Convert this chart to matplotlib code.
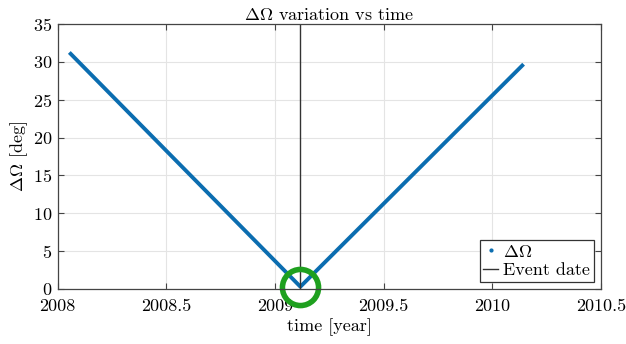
import numpy as np
import matplotlib
matplotlib.use('Agg')
import matplotlib.pyplot as plt

# data
t = [2008.054, 2009.117, 2010.144]
dOmega = [31.25, 0.3, 29.7]
event_date = 2009.117
event_val = 0.3

plt.rcParams['font.family'] = 'serif'
plt.rcParams['font.serif'] = ['cmr10', 'DejaVu Serif']
plt.rcParams['mathtext.fontset'] = 'cm'
plt.rcParams['axes.formatter.use_mathtext'] = True

fig = plt.figure(figsize=(6.26, 3.44), dpi=100)
fig.set_facecolor('white')
ax = fig.add_axes([0.092, 0.160, 0.868, 0.770])

blue = '#0b6db0'
ax.plot(t, dOmega, '-', color=blue, linewidth=2.8, solid_capstyle='butt')
ax.plot([], [], '.', color=blue, markersize=4, label=r'$\Delta\Omega$')
ax.axvline(event_date, color='#333333', linewidth=1.0, label='Event date')
ax.plot([event_date], [event_val], 'o', markersize=26, markerfacecolor='none',
        markeredgecolor='#1fa01f', markeredgewidth=4, clip_on=False)

ax.set_xlim(2008, 2010.5)
ax.set_ylim(0, 35)
ax.set_xticks([2008, 2008.5, 2009, 2009.5, 2010, 2010.5])
ax.set_xticklabels(['2008', '2008.5', '2009', '2009.5', '2010', '2010.5'])
ax.set_yticks(np.arange(0, 36, 5))
ax.tick_params(direction='in', top=True, right=True, labelsize=13, length=4,
               color='#444444')
ax.tick_params(axis='x', pad=7)
ax.tick_params(axis='y', pad=4)
ax.grid(True, color='#e4e4e4', linewidth=0.8)
ax.set_axisbelow(True)
for s in ax.spines.values():
    s.set_color('#444444')
    s.set_linewidth(0.9)

ax.set_title(r'$\Delta\Omega$ variation vs time', fontsize=13, pad=3)
ax.set_xlabel('time [year]', fontsize=13, labelpad=3)
ax.set_ylabel(r'$\Delta\Omega$ [deg]', fontsize=13, labelpad=2)

leg = ax.legend(loc='lower right', fontsize=13, fancybox=False, framealpha=1,
                edgecolor='#333333', handlelength=0.8, handletextpad=0.3,
                borderpad=0.2, labelspacing=0.15, borderaxespad=0.4)
leg.get_frame().set_linewidth(0.9)

fig.savefig('out.png', dpi=100)
